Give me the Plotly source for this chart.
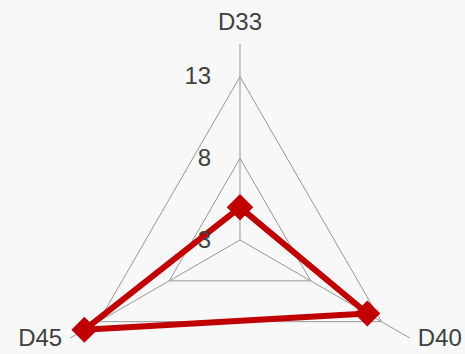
import plotly.graph_objects as go

categories = ["D33", "D40", "D45"]
values = [5, 12, 14]
radial_ticks = [3, 8, 13]

# close the polygon
theta = categories + categories[:1]
r = values + values[:1]

# the lower labels get blank trailing lines so plotly lifts them up a bit
angular_text = ["D33", "D40<br> <br> ", "D45<br> <br> "]

fig = go.Figure(
    go.Scatterpolar(
        r=r,
        theta=theta,
        mode="lines+markers",
        line=dict(color="#c00000", width=6),
        marker=dict(symbol="diamond", size=20, color="#c00000"),
    )
)

fig.update_layout(
    width=465,
    height=480,
    margin=dict(l=0, r=0, t=0, b=0),
    paper_bgcolor="#f8f8f8",
    showlegend=False,
    font=dict(family="Liberation Sans, Arial", size=24, color="#404040"),
    polar=dict(
        domain=dict(x=[0.0946, 0.9376], y=[0, 1]),
        bgcolor="#f8f8f8",
        gridshape="linear",
        radialaxis=dict(
            range=[3, 15],
            tickvals=radial_ticks,
            angle=90,
            side="counterclockwise",
            tickangle=90,
            showline=False,
            gridcolor="#999999",
            gridwidth=1,
            ticks="outside",
            ticklen=20,
            tickcolor="rgba(0,0,0,0)",
            tickfont=dict(size=24, color="#404040"),
        ),
        angularaxis=dict(
            rotation=90,
            direction="clockwise",
            tickmode="array",
            tickvals=categories,
            ticktext=angular_text,
            showline=False,
            gridcolor="#999999",
            gridwidth=1,
            ticks="outside",
            ticklen=4,
            tickcolor="rgba(0,0,0,0)",
            tickfont=dict(size=24, color="#404040"),
        ),
    ),
)

fig.write_html(
    "out.html",
    config={"displayModeBar": False},
    post_script="document.body.style.margin='0';",
)
